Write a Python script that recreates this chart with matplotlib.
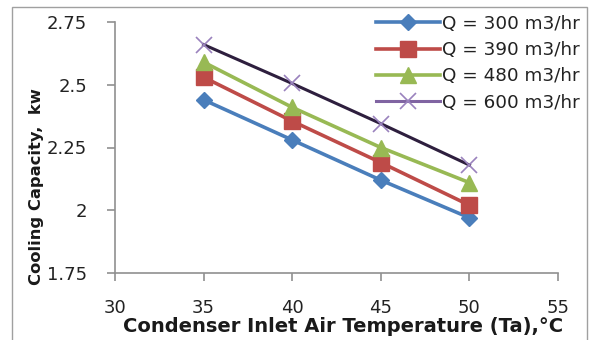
import matplotlib
matplotlib.use("Agg")
import matplotlib.pyplot as plt
from matplotlib.patches import Rectangle

temps = [35, 40, 45, 50]
q300 = [2.44, 2.28, 2.12, 1.97]
q390 = [2.53, 2.355, 2.19, 2.02]
q480 = [2.59, 2.41, 2.25, 2.11]
q600 = [2.66, 2.505, 2.345, 2.18]
labels = ["Q = 300 m3/hr", "Q = 390 m3/hr", "Q = 480 m3/hr", "Q = 600 m3/hr"]
xticks = [30, 35, 40, 45, 50, 55]
yticks = [1.75, 2.0, 2.25, 2.5, 2.75]
ytick_labels = ["1.75", "2", "2.25", "2.5", "2.75"]

plt.rcParams['font.family'] = ['DejaVu Sans']

fig = plt.figure(figsize=(5.9, 3.4), dpi=100)
fig.patches.append(Rectangle((12/590, -0.1), 575/590, 1.1 - 7/340, transform=fig.transFigure,
                             fill=False, edgecolor='#a0a0a0', lw=1.0))
ax = fig.add_axes([115/590, 1 - 273/340, 443/590, 251/340])

ax.plot(temps, q300, color='#4a7ebb', lw=2.6, marker='D', ms=8, mfc='#4a7ebb', mec='#4a7ebb', label=labels[0])
ax.plot(temps, q390, color='#be4b48', lw=2.6, marker='s', ms=11, mfc='#be4b48', mec='#be4b48', label=labels[1])
ax.plot(temps, q480, color='#98b954', lw=2.6, marker='^', ms=11, mfc='#98b954', mec='#98b954', label=labels[2])
ax.plot(temps, q600, color='#2e1f3e', lw=2.2, marker='x', ms=12, mew=1.2, mec='#9a82bd', label=labels[3])

ax.set_xlim(30, 55)
ax.set_ylim(1.75, 2.75)
ax.set_xticks(xticks)
ax.set_yticks(yticks)
ax.set_yticklabels(ytick_labels)
for s in ['top', 'right']:
    ax.spines[s].set_visible(False)
for s in ['left', 'bottom']:
    ax.spines[s].set_color('#909090')
    ax.spines[s].set_linewidth(1.2)
ax.tick_params(axis='x', length=6, width=1.2, color='#909090', pad=13, labelsize=13, labelcolor='#222222')
ax.tick_params(axis='y', length=6, width=1.2, color='#909090', pad=14, labelsize=13, labelcolor='#222222')

leg = ax.legend(loc='upper right', bbox_to_anchor=(582/590, 1 - 13/340), bbox_transform=fig.transFigure,
                frameon=False, fontsize=13.2, handlelength=3.5, labelspacing=0.45, handletextpad=0.1,
                borderaxespad=0, borderpad=0.1)
leg.get_lines()[3].set_color('#8064a2')
for t in leg.get_texts():
    t.set_color('#222222')

fig.text(343/590, 1 - 327/340, "Condenser Inlet Air Temperature (Ta),°C", ha='center', va='center',
         fontsize=14, fontweight='bold', color='#1a1a1a')
fig.text(37/590, 1 - 187/340, "Cooling Capacity,  kw", ha='center', va='center', rotation=90,
         fontsize=11.8, fontweight='bold', color='#1a1a1a')

fig.savefig("out.png", dpi=100)
